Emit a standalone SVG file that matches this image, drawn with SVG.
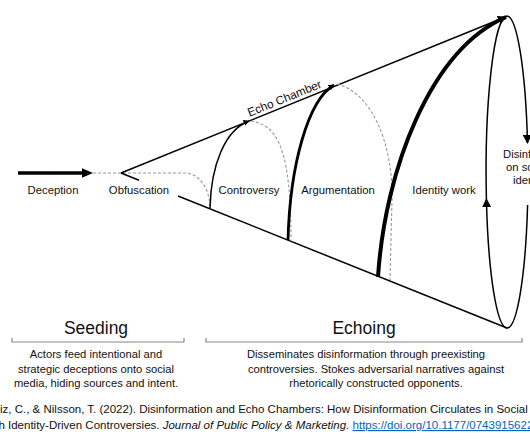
<svg xmlns="http://www.w3.org/2000/svg" width="530" height="442" viewBox="0 0 530 442">
<style>
text{font-family:"Liberation Sans",Arial,sans-serif;fill:#111}
.lbl{font-size:11.3px}
.hd{font-size:17.5px;text-anchor:middle}
.desc{font-size:11.2px;text-anchor:middle}
.cit{font-size:11.5px}
.ln{fill:none;stroke:#000;stroke-width:1.5}
.dash{fill:none;stroke:#999;stroke-width:1.1;stroke-dasharray:3 2}
.br{fill:none;stroke:#888;stroke-width:1.2}
</style>
<defs>
<marker id="ah" viewBox="0 0 10 10" refX="9" refY="5" markerWidth="9" markerHeight="9" markerUnits="userSpaceOnUse" orient="auto"><path d="M0,0 L10,5 L0,10 z" fill="#000"/></marker>
<marker id="ahs" viewBox="0 0 10 10" refX="9" refY="5" markerWidth="6" markerHeight="6" markerUnits="userSpaceOnUse" orient="auto"><path d="M0,0 L10,5 L0,10 z" fill="#000"/></marker>
</defs>
<rect width="530" height="442" fill="#fff"/>
<g id="connectors">
<line x1="18" y1="173" x2="84" y2="173" stroke="#000" stroke-width="3.5"/>
<polygon points="82,168.3 93,173 82,177.7" fill="#000"/>
<path class="dash" d="M93,173 L185,173 C200,173 210,190 210,208"/>
<line class="ln" x1="121" y1="173" x2="503" y2="18"/>
<line class="ln" x1="121" y1="173" x2="139" y2="180.3"/>
<line class="ln" x1="178" y1="196" x2="507" y2="328"/>
<path class="ln" d="M210,208 C211,165 225,130 249,121" marker-end="url(#ahs)"/>
<path class="dash" d="M251,121 C278,125 291,150 291,241"/>
<path class="ln" style="stroke-width:2.8" d="M288,240 C290,165 308,100 334,85" marker-end="url(#ahs)"/>
<path class="dash" d="M337,84 C370,92 393,140 392,200 L390,280"/>
<path class="ln" style="stroke-width:4" d="M378,277 C385,170 430,50 506,17" marker-end="url(#ah)"/>
<path class="ln" d="M507,16 A21,156 0 0 1 527.5,143" marker-end="url(#ah)"/>
<path class="ln" d="M527.6,205 A21,156 0 0 1 507,328"/>
<path class="ln" d="M507,328 A21,156 0 0 1 486.4,199" marker-end="url(#ah)"/>
<path class="ln" d="M486.4,199 A21,156 0 0 1 507,16"/>
</g>
<g id="deception"><text class="lbl" x="53" y="194" text-anchor="middle">Deception</text></g>
<g id="obfuscation"><text class="lbl" x="139" y="194" text-anchor="middle">Obfuscation</text></g>
<g id="controversy"><text class="lbl" x="249" y="194" text-anchor="middle">Controversy</text></g>
<g id="argumentation"><text class="lbl" x="338" y="194" text-anchor="middle">Argumentation</text></g>
<g id="identity-work"><text class="lbl" x="444" y="194" text-anchor="middle">Identity work</text></g>
<g id="echo-chamber"><text class="lbl" x="286" y="102" text-anchor="middle" transform="rotate(-22.1 286 102)" style="font-size:11.8px">Echo Chamber</text></g>
<g id="disinformation">
<text class="lbl" x="503" y="158">Disinformation</text>
<text class="lbl" x="506" y="171">on social</text>
<text class="lbl" x="513" y="184">identities</text>
</g>
<g id="seeding">
<text class="hd" x="96" y="334">Seeding</text>
<path class="br" d="M12,338 L12,342 L184,342 L184,338"/>
<text class="desc" x="96" y="358">Actors feed intentional and</text>
<text class="desc" x="96" y="372.5">strategic deceptions onto social</text>
<text class="desc" x="96" y="387">media, hiding sources and intent.</text>
</g>
<g id="echoing">
<text class="hd" x="364" y="334">Echoing</text>
<path class="br" d="M206,338 L206,342 L522,342 L522,338"/>
<text class="desc" x="366" y="358">Disseminates disinformation through preexisting</text>
<text class="desc" x="376" y="372.5">controversies. Stokes adversarial narratives against</text>
<text class="desc" x="376" y="387">rhetorically constructed opponents.</text>
</g>
<g id="citation">
<text class="cit" x="-14.7" y="413">Ruiz, C., &amp; Nilsson, T. (2022). Disinformation and Echo Chambers: How Disinformation Circulates in Social</text>
<text class="cit" x="-38" y="429">Through Identity-Driven Controversies. <tspan font-style="italic">Journal of Public Policy &amp; Marketing.</tspan> <tspan fill="#0563C1" text-decoration="underline">https://doi.org/10.1177/07439156221103852</tspan></text>
</g>
</svg>
